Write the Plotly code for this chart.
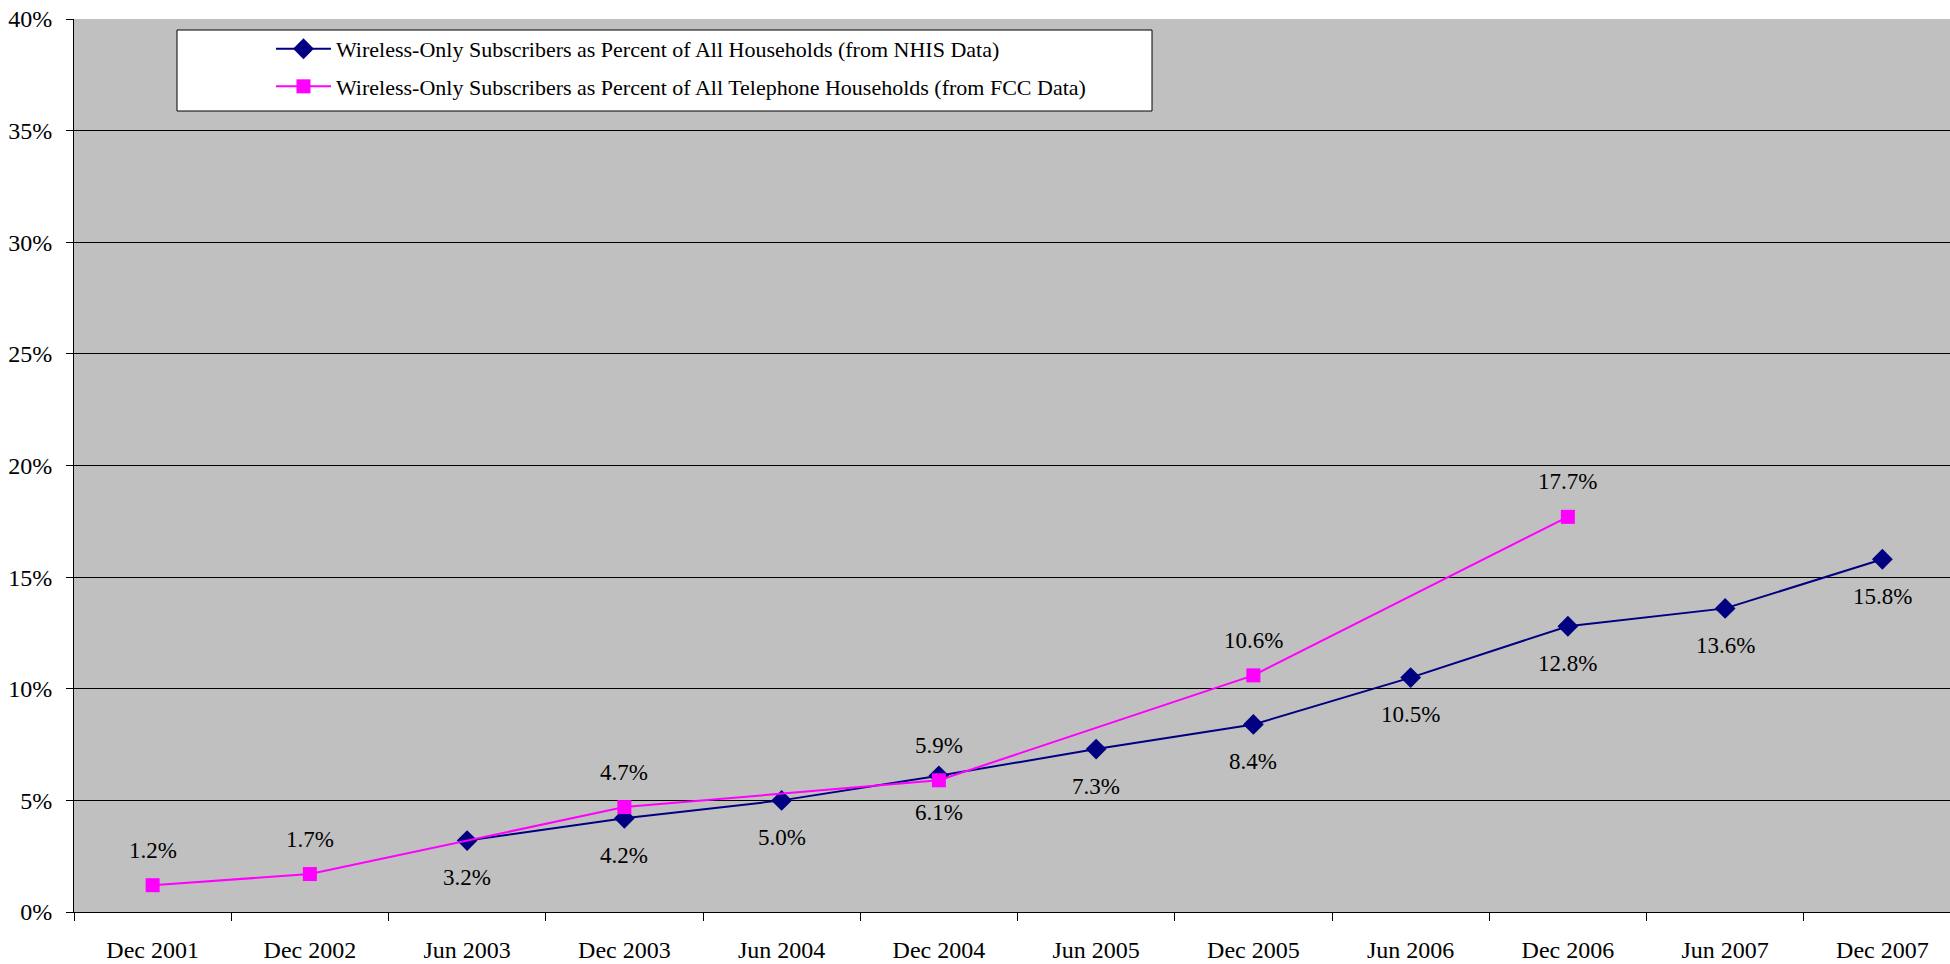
import plotly.graph_objects as go

categories = ["Dec 2001", "Dec 2002", "Jun 2003", "Dec 2003", "Jun 2004", "Dec 2004",
              "Jun 2005", "Dec 2005", "Jun 2006", "Dec 2006", "Jun 2007", "Dec 2007"]
nhis = [None, None, 3.2, 4.2, 5.0, 6.1, 7.3, 8.4, 10.5, 12.8, 13.6, 15.8]
fcc = [1.2, 1.7, None, 4.7, None, 5.9, None, 10.6, None, 17.7, None, None]
y_ticks = [0, 5, 10, 15, 20, 25, 30, 35, 40]
y_tick_labels = [f"{v}%" for v in y_ticks]

nhis_name = "Wireless-Only Subscribers as Percent of All Households (from NHIS Data)"
fcc_name = "Wireless-Only Subscribers as Percent of All Telephone Households (from FCC Data)"

FONT = "Liberation Serif, Times New Roman, serif"
NAVY = "#000080"
MAGENTA = "#FF00FF"

fig = go.Figure()
fig.add_trace(go.Scatter(
    x=categories, y=nhis, name=nhis_name, mode="lines+markers",
    line=dict(color=NAVY, width=2), connectgaps=True,
    marker=dict(symbol="diamond", size=16, color=NAVY),
    legendgroup="a",
))
fig.add_trace(go.Scatter(
    x=categories, y=fcc, name=fcc_name, mode="lines+markers",
    line=dict(color=MAGENTA, width=2), connectgaps=True,
    marker=dict(symbol="square", size=14, color=MAGENTA),
    legendgroup="b",
))

annotations = []
for c, v in zip(categories, nhis):
    if v is not None:
        annotations.append(dict(x=c, y=v, xref="x", yref="y", text=f"{v:.1f}%",
                                showarrow=False, yshift=-37,
                                font=dict(family=FONT, size=23, color="black")))
for c, v in zip(categories, fcc):
    if v is not None:
        annotations.append(dict(x=c, y=v, xref="x", yref="y", text=f"{v:.1f}%",
                                showarrow=False, yshift=35,
                                font=dict(family=FONT, size=23, color="black")))

fig.update_layout(
    width=1950, height=964,
    margin=dict(l=74, r=0, t=19, b=52),
    paper_bgcolor="white",
    plot_bgcolor="#C0C0C0",
    font=dict(family=FONT, size=23, color="black"),
    showlegend=True,
    legend=dict(
        x=0.105, y=0.99, xanchor="left", yanchor="top",
        bgcolor="rgba(0,0,0,0)", borderwidth=0,
        font=dict(family=FONT, size=22, color="black"),
        tracegroupgap=6, itemwidth=55,
    ),
    shapes=[dict(type="rect", xref="paper", yref="paper",
                 x0=(177 - 74) / 1876, x1=(1152 - 74) / 1876,
                 y0=(912 - 111) / 893, y1=(912 - 30) / 893,
                 line=dict(color="black", width=1), fillcolor="white", layer="below")],
    annotations=annotations,
    xaxis=dict(
        type="category", categoryorder="array", categoryarray=categories,
        range=[-0.5, 11.43], showgrid=False,
        showline=True, linecolor="black", linewidth=1,
        ticks="outside", ticklen=8, tickcolor="black", tickson="boundaries",
        ticklabelstandoff=16,
        tickfont=dict(family=FONT, size=24, color="black"),
    ),
    yaxis=dict(
        range=[0, 40], tickvals=y_ticks, ticktext=y_tick_labels,
        showgrid=True, gridcolor="black", gridwidth=1,
        zeroline=True, zerolinecolor="black", zerolinewidth=1,
        showline=True, linecolor="black", linewidth=1,
        ticks="outside", ticklen=7, tickcolor="black",
        ticklabelstandoff=9,
        tickfont=dict(family=FONT, size=24, color="black"),
    ),
)

fig.write_html("out.html", config={"displayModeBar": False},
               post_script="document.body.style.margin='0';")
